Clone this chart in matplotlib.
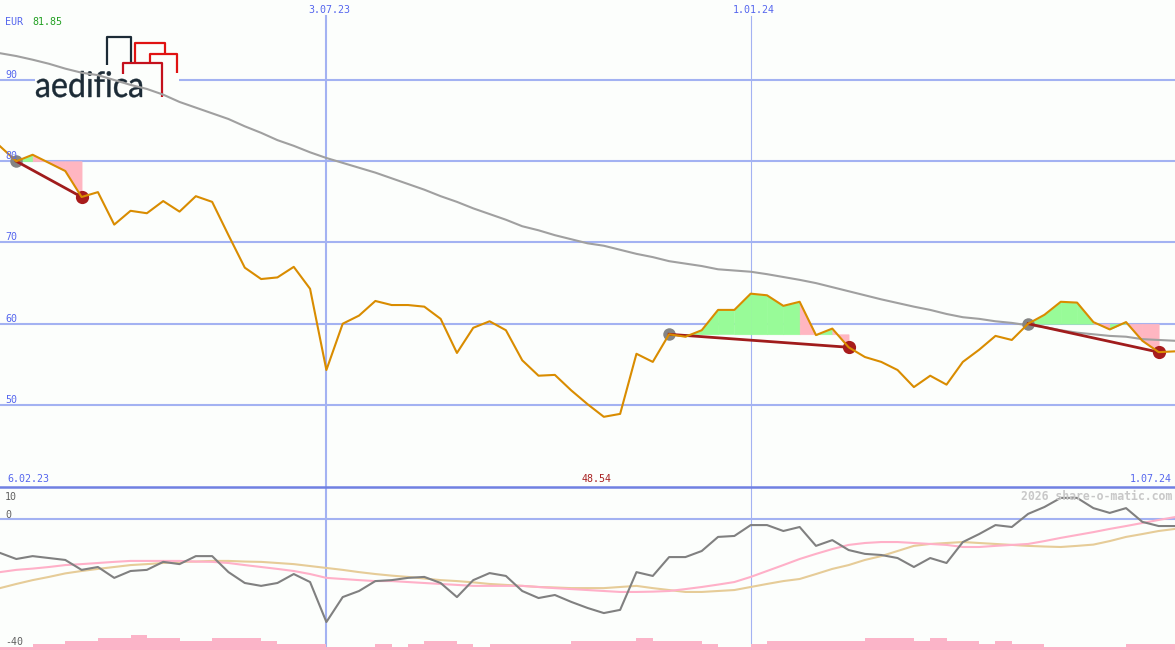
import numpy as np
import pandas as pd
import matplotlib
matplotlib.use("Agg")
import matplotlib.pyplot as plt
import matplotlib.dates as mdates
from matplotlib.transforms import Affine2D, blended_transform_factory
from matplotlib.textpath import TextPath
from matplotlib.patches import PathPatch, Rectangle
from matplotlib.font_manager import FontProperties
from matplotlib.lines import Line2D

# ---------------- data ----------------
start_date = "2023-02-13"
end_date = "2024-07-01"

price = [81.85, 80.0, 80.8, 79.8, 78.8, 75.6, 76.2, 72.2, 73.9, 73.6,
         75.1, 73.8, 75.7, 75.0, 70.9, 66.9, 65.5, 65.7, 67.0, 64.3,
         54.3, 60.0, 61.0, 62.8, 62.3, 62.3, 62.1, 60.6, 56.4, 59.5,
         60.3, 59.2, 55.5, 53.6, 53.7, 51.8, 50.1, 48.54, 48.9, 56.3,
         55.3, 58.7, 58.4, 59.2, 61.7, 61.7, 63.7, 63.5, 62.2, 62.7,
         58.6, 59.4, 57.1, 55.9, 55.3, 54.3, 52.2, 53.6, 52.5, 55.3,
         56.8, 58.5, 58.0, 60.0, 61.1, 62.7, 62.6, 60.2, 59.3, 60.2,
         57.9, 56.5, 56.6]

trend_ma = [93.3, 92.95, 92.5, 92.0, 91.4, 90.9, 90.6, 90.0, 89.4, 88.9,
            88.2, 87.3, 86.6, 85.9, 85.2, 84.3, 83.5, 82.6, 81.9, 81.1,
            80.4, 79.8, 79.2, 78.6, 77.9, 77.2, 76.5, 75.7, 75.0, 74.2,
            73.5, 72.8, 72.0, 71.5, 70.9, 70.4, 69.9, 69.6, 69.1, 68.6,
            68.2, 67.7, 67.4, 67.1, 66.7, 66.55, 66.4, 66.1, 65.75, 65.4,
            65.0, 64.5, 64.0, 63.5, 63.0, 62.55, 62.1, 61.7, 61.2, 60.8,
            60.6, 60.3, 60.1, 59.8, 59.6, 59.2, 58.9, 58.7, 58.5, 58.4,
            58.1, 58.0, 57.9]

momentum = [-10.6, -12.5, -11.6, -12.2, -12.8, -15.9, -15.0, -18.4, -16.25, -15.9,
            -13.4, -14.1, -11.6, -11.6, -16.6, -20.0, -20.9, -20.0, -17.2, -19.7,
            -32.2, -24.4, -22.5, -19.4, -19.1, -18.4, -18.1, -20.0, -24.4, -19.1,
            -16.9, -17.8, -22.5, -24.7, -23.75, -25.9, -27.8, -29.4, -28.4, -16.6,
            -17.8, -11.9, -11.9, -10.0, -5.6, -5.3, -1.9, -1.9, -3.75, -2.5,
            -8.4, -6.6, -9.7, -10.9, -11.25, -12.2, -15.0, -12.2, -13.75, -7.2,
            -4.7, -1.9, -2.5, 1.6, 3.75, 6.6, 6.6, 3.4, 1.9, 3.4,
            -0.9, -2.2, -2.2]

signal_fast = [-16.6, -15.9, -15.5, -15.0, -14.4, -14.1, -13.75, -13.4, -13.1, -13.1,
               -13.1, -13.1, -13.3, -13.4, -13.75, -14.4, -15.0, -15.6, -16.25, -17.2,
               -18.4, -18.75, -19.1, -19.4, -19.4, -19.7, -20.0, -20.3, -20.6, -20.9,
               -20.9, -20.9, -20.9, -21.25, -21.6, -21.9, -22.2, -22.5, -22.8, -22.8,
               -22.7, -22.5, -21.9, -21.25, -20.5, -19.7, -18.1, -16.25, -14.4, -12.5,
               -10.9, -9.4, -8.1, -7.5, -7.2, -7.2, -7.5, -7.8, -8.1, -8.75,
               -8.75, -8.4, -8.1, -7.8, -6.9, -5.9, -5.0, -4.1, -3.1, -2.2,
               -1.25, -0.3, 0.6]

signal_slow = [-21.6, -20.3, -19.1, -18.1, -17.0, -16.25, -15.6, -15.0, -14.4, -14.1,
               -13.75, -13.4, -13.3, -13.1, -13.1, -13.3, -13.4, -13.75, -14.1, -14.7,
               -15.3, -15.9, -16.6, -17.2, -17.7, -18.1, -18.6, -19.1, -19.4, -19.8,
               -20.3, -20.6, -20.9, -21.25, -21.4, -21.6, -21.6, -21.6, -21.25, -20.9,
               -21.6, -22.2, -22.8, -22.8, -22.5, -22.2, -21.25, -20.3, -19.4, -18.75,
               -17.2, -15.6, -14.4, -12.8, -11.6, -10.0, -8.4, -7.8, -7.5, -7.2,
               -7.5, -7.8, -8.1, -8.4, -8.6, -8.75, -8.4, -8.0, -6.9, -5.6,
               -4.7, -3.75, -3.1]

volume_level = [1, 1, 2, 2, 3, 3, 4, 4, 5, 4,
                4, 3, 3, 4, 4, 4, 3, 2, 2, 2,
                1, 1, 1, 2, 1, 2, 3, 3, 2, 1,
                2, 2, 2, 2, 2, 3, 3, 3, 3, 4,
                3, 3, 3, 2, 1, 1, 2, 3, 3, 3,
                3, 3, 3, 4, 4, 4, 3, 4, 3, 3,
                2, 3, 2, 2, 1, 1, 1, 1, 1, 2,
                2, 2, 2]

entry_idx = [1, 41, 63]
exit_idx = [5, 52, 71]

price_levels = [90, 80, 70, 60, 50]
date_marks = ["2023-07-03", "2024-01-01"]
date_mark_labels = ["3.07.23", "1.01.24"]
first_label = "6.02.23"
last_label = "1.07.24"
min_label = "48.54"
currency = "EUR"
last_price_label = "81.85"
copyright_text = "2026 share-o-matic.com"
osc_labels = ["10", "0", "-40"]

dates = mdates.date2num(pd.date_range(start_date, periods=len(price), freq="7D").to_pydatetime())
x_end = mdates.date2num(pd.Timestamp(end_date).to_pydatetime())
mark_x = [mdates.date2num(pd.Timestamp(d).to_pydatetime()) for d in date_marks]

# ---------------- style ----------------
W, H = 1175, 650
SPLIT = 487
BG = "#fcfefc"
GRID = "#a3b2f2"
BLUE = "#5566ee"
MONO = "DejaVu Sans Mono"
GREEN_FILL = "#98fb98"
PINK_FILL = "#ffb6c1"

fig = plt.figure(figsize=(W / 100, H / 100), dpi=100)
fig.patch.set_facecolor(BG)

ax1 = fig.add_axes([0, (H - SPLIT) / H, 1, SPLIT / H])
ax2 = fig.add_axes([0, 0, 1, (H - SPLIT) / H])
for ax in (ax1, ax2):
    ax.set_axis_off()
    ax.set_xlim(dates[0], x_end)
ax1.set_ylim(39.9, 99.85)
ax2.set_ylim(-40.94, 10)
y_low = ax2.get_ylim()[0]

# grid lines
for lv in price_levels:
    ax1.axhline(lv, color=GRID, lw=1.5, zorder=1)
for xm, lw in zip(mark_x, [1.5, 0.8]):
    ax1.axvline(xm, ymin=0, ymax=1 - 16 / SPLIT, color=GRID, lw=lw, zorder=1)
    ax2.axvline(xm, color=GRID, lw=lw, zorder=1)
ax2.axhline(0, color=GRID, lw=1.5, zorder=1)
ax2.axhline(10, color="#7080e2", lw=1.8, zorder=6, clip_on=False)

# trade fills
for g, r in zip(entry_idx, exit_idx):
    base = price[g]
    for i in range(g, r):
        col = GREEN_FILL if price[i + 1] >= base else PINK_FILL
        ax1.fill_between(dates[i:i + 2], price[i:i + 2], base, color=col,
                         lw=0.4, edgecolor=col, zorder=2)

# logo (decoration)
px = Affine2D().scale(1.0 / W, -1.0 / H).translate(0, 1) + fig.transFigure
ax1.add_patch(Rectangle((35, 33), 144, 67, transform=px, facecolor=BG,
                        edgecolor="none", zorder=2.5, clip_on=False))
tp = TextPath((0, 0), "aedifica", size=1, prop=FontProperties(family="Lato", weight="normal"))
ext = tp.get_extents()
tt = Affine2D().translate(-ext.x0, 0).scale(106 / ext.width, -26 / ext.y1).translate(36, 97) + px
ax1.add_patch(PathPatch(tp, transform=tt, facecolor="#1c2b36", edgecolor="#1c2b36",
                        lw=0.3, zorder=2.7, clip_on=False))
logo_shapes = [
    ([107, 107, 131, 131], [65, 37, 37, 63], "#1c2b36"),
    ([135, 135, 165, 165], [62, 43, 43, 53], "#e01212"),
    ([150, 150, 177, 177], [62, 54, 54, 73], "#e01212"),
    ([123, 123, 162, 162], [74, 63, 63, 97], "#c4101c"),
]
for xs, ys, c in logo_shapes:
    ax1.add_line(Line2D(xs, ys, transform=px, color=c, lw=1.6, solid_joinstyle="round",
                        solid_capstyle="butt", zorder=2.6, clip_on=False))

# moving average
ax1.plot(dates, trend_ma, color="#a0a0a0", lw=1.5, zorder=3)

# signals
for g, r in zip(entry_idx, exit_idx):
    ax1.plot(dates[g], price[g], "o", color="#848484", ms=9, mec="none", zorder=4)
    ax1.plot(dates[r], price[r], "o", color="#a81c1c", ms=9.5, mec="none", zorder=4)
    ax1.plot([dates[g], dates[r]], [price[g], price[r]], color="#a01c1c", lw=2, zorder=5)

ax1.plot(dates, price, color="#d98c00", lw=1.5, zorder=6)

# lower panel
ax2.bar(dates, np.array(volume_level) * 0.94, bottom=y_low, width=7, align="edge",
        color="#fbb4c8", lw=0, zorder=1)
ax2.plot(dates, signal_slow, color="#e6cc98", lw=1.5, zorder=2)
ax2.plot(dates, signal_fast, color="#ffb0c8", lw=1.5, zorder=3)
ax2.plot(dates, momentum, color="#808080", lw=1.5, zorder=4)

# texts
blend = blended_transform_factory(ax1.transAxes, ax1.transData)
for lv in price_levels:
    ax1.annotate(str(lv), xy=(0, lv), xycoords=blend, xytext=(5, 2),
                 textcoords="offset pixels", va="baseline", ha="left",
                 fontsize=7.2, color=BLUE, family=MONO, zorder=7)

blend_top = blended_transform_factory(ax1.transData, ax1.transAxes)
for xm, lab in zip(mark_x, date_mark_labels):
    ax1.annotate(lab, xy=(xm, 1), xycoords=blend_top,
                 xytext=(3, -13), textcoords="offset pixels", va="baseline", ha="center",
                 fontsize=7.2, color=BLUE, family=MONO)


def ftext(x, y, s, **kw):
    fig.text(x / W, 1 - y / H, s, family=MONO, va="baseline", **kw)


ftext(5, 25, currency, fontsize=7.2, color=BLUE)
ftext(32, 25, last_price_label, fontsize=7.2, color="#22a022")
ftext(7, 482, first_label, fontsize=7.2, color=BLUE)
ftext(597, 482, min_label, fontsize=7.2, color="#a82020", ha="center")
ftext(1172, 482, last_label, fontsize=7.2, color=BLUE, ha="right")
ftext(1172, 500, copyright_text, fontsize=8.3, color="#c8c8c8", ha="right", weight="bold")
for lab, yb in zip(osc_labels, [500, 518, 645]):
    ftext(5, yb, lab, fontsize=7.2, color="#606060")

fig.savefig("out.png", dpi=100, facecolor=BG)
